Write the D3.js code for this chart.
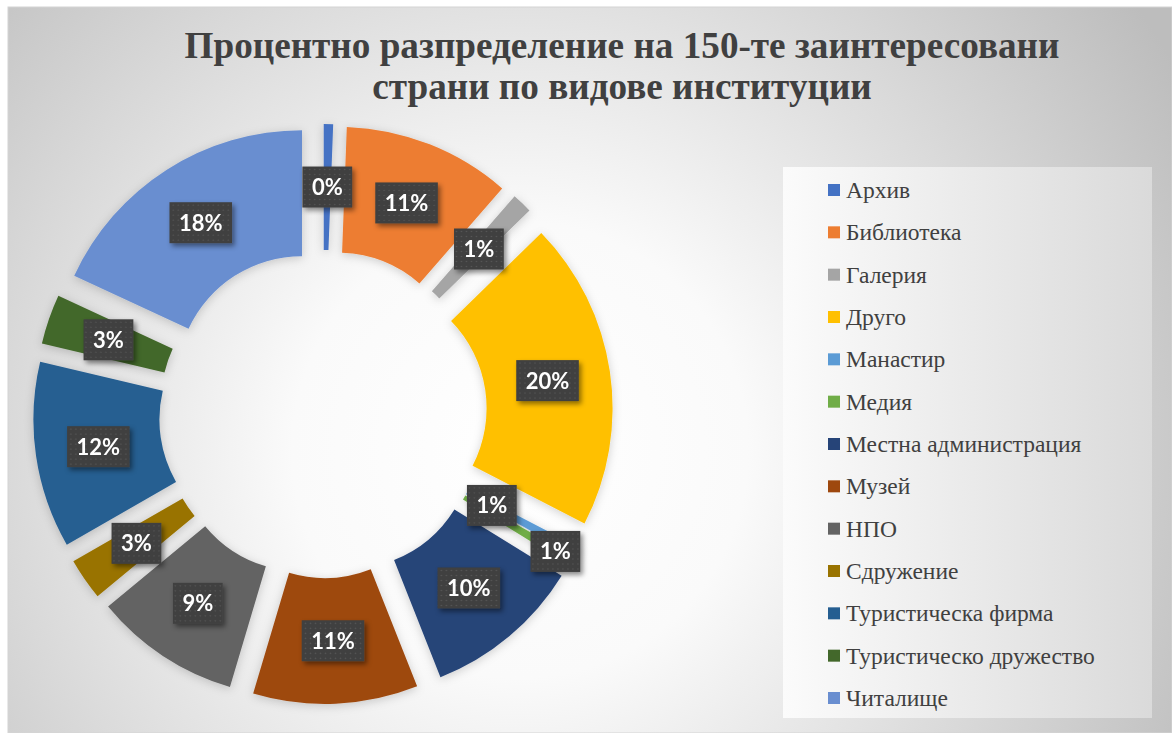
<!DOCTYPE html>
<html lang="bg">
<head>
<meta charset="UTF-8">
<title>Процентно разпределение</title>
<script src="https://d3js.org/d3.v7.min.js"></script>
<style>
  body { margin: 0; background: #fff; }
  svg { display: block; }
</style>
</head>
<body>
<div class="donutChart"></div>
<script>
  // данни (дялове в %, прочетени от ъглите на резените)
  const categories = ["Архив", "Библиотека", "Галерия", "Друго", "Манастир", "Медия",
    "Местна администрация", "Музей", "НПО", "Сдружение", "Туристическа фирма",
    "Туристическо дружество", "Читалище"]
  const shares = [0.6, 10.8, 1.3, 19.9, 0.6, 0.6, 10.2, 10.6, 9.4, 2.7, 12.0, 3.2, 18.1]
  const labels = ["0%", "11%", "1%", "20%", "1%", "1%", "10%", "11%", "9%", "3%", "12%", "3%", "18%"]
  const colors = ["#4472C4", "#ED7D31", "#A5A5A5", "#FFC000", "#5B9BD5", "#70AD47",
    "#264478", "#9E480E", "#636363", "#997300", "#255E91", "#43682B", "#698ED0"]
  const titleLines = ["Процентно разпределение на 150-те заинтересовани", "страни по видове институции"]

  // етикети, които Excel е изместил (разстояние от центъра)
  const labelDist = { "Манастир": 192, "Медия": 270 }

  const width = 1172, height = 733
  const cx = 323, cy = 414
  const outerR = 251, innerR = 125, explode = 39

  const data = categories.map((c, i) => ({ name: c, value: shares[i], label: labels[i], color: colors[i] }))

  const svg = d3.select(".donutChart")
    .append("svg")
    .attr("width", width)
    .attr("height", height)

  const defs = svg.append("defs")

  // фон
  const bg = defs.append("radialGradient")
    .attr("id", "bgGrad")
    .attr("gradientUnits", "userSpaceOnUse")
    .attr("cx", 520).attr("cy", 450).attr("r", 760)
  bg.append("stop").attr("offset", 0).attr("stop-color", "#ffffff")
  bg.append("stop").attr("offset", 0.3).attr("stop-color", "#fafafa")
  bg.append("stop").attr("offset", 1).attr("stop-color", "#bdbdbd")

  const lg = defs.append("linearGradient")
    .attr("id", "legendGrad")
    .attr("x1", 0).attr("y1", 0).attr("x2", 1).attr("y2", 0)
  lg.append("stop").attr("offset", 0).attr("stop-color", "#fbfbfb")
  lg.append("stop").attr("offset", 1).attr("stop-color", "#dadada")

  // точков шаблон за етикетите
  const pat = defs.append("pattern")
    .attr("id", "dots")
    .attr("patternUnits", "userSpaceOnUse")
    .attr("width", 5).attr("height", 5)
  pat.append("rect").attr("width", 5).attr("height", 5).attr("fill", "#3f3f3f")
  pat.append("circle").attr("cx", 2.5).attr("cy", 2.5).attr("r", 0.8).attr("fill", "#575757")

  const sh = defs.append("filter").attr("id", "labelShadow")
    .attr("x", "-30%").attr("y", "-30%").attr("width", "160%").attr("height", "170%")
  sh.append("feDropShadow").attr("dx", 2.5).attr("dy", 3).attr("stdDeviation", 2.5)
    .attr("flood-color", "#000").attr("flood-opacity", 0.45)

  const sliceSh = defs.append("filter").attr("id", "sliceShadow")
    .attr("x", "-20%").attr("y", "-20%").attr("width", "140%").attr("height", "140%")
  sliceSh.append("feDropShadow").attr("dx", 0).attr("dy", 2).attr("stdDeviation", 5)
    .attr("flood-color", "#000").attr("flood-opacity", 0.18)

  svg.append("rect")
    .attr("x", 8).attr("y", 7)
    .attr("width", width - 8).attr("height", height - 7)
    .attr("fill", "url(#bgGrad)")
    .attr("stroke", "#d4d4d4")

  // заглавие
  svg.append("g")
    .selectAll("text")
    .data(titleLines)
    .join("text")
      .attr("x", 622)
      .attr("y", (d, i) => 58 + i * 41)
      .attr("text-anchor", "middle")
      .style("font-family", "'Liberation Serif', 'Times New Roman', serif")
      .style("font-weight", "bold")
      .style("font-size", "37.2px")
      .style("fill", "#404040")
      .text(d => d)

  // пръстеновидна диаграма
  const pie = d3.pie()
    .sort(null)
    .value(d => d.value)
    .startAngle(0)
    .endAngle(2 * Math.PI)

  const arc = d3.arc()
    .innerRadius(innerR)
    .outerRadius(outerR)

  const arcs = pie(data)
  const mid = d => (d.startAngle + d.endAngle) / 2
  const offset = d => [explode * Math.sin(mid(d)), -explode * Math.cos(mid(d))]

  const chart = svg.append("g")
    .attr("transform", `translate(${cx},${cy})`)

  chart.append("g")
    .attr("filter", "url(#sliceShadow)")
    .selectAll("path")
    .data(arcs)
    .join("path")
      .attr("d", arc)
      .attr("transform", d => `translate(${offset(d)})`)
      .attr("fill", d => d.data.color)

  // етикети с данни
  const lab = chart.append("g")
    .selectAll("g")
    .data(arcs)
    .join("g")
      .attr("transform", d => {
        let p
        const dist = labelDist[d.data.name]
        if (dist) {
          p = [dist * Math.sin(mid(d)), -dist * Math.cos(mid(d))]
        } else {
          const c = arc.centroid(d), o = offset(d)
          p = [c[0] + o[0], c[1] + o[1]]
        }
        return `translate(${p})`
      })

  lab.append("rect")
    .attr("fill", "url(#dots)")
    .attr("filter", "url(#labelShadow)")

  lab.append("text")
    .attr("text-anchor", "middle")
    .attr("y", 8)
    .style("font-family", "Lato, 'Open Sans', sans-serif")
    .style("font-weight", "bold")
    .style("font-size", "22px")
    .style("fill", "#fff")
    .text(d => d.data.label)

  lab.each(function () {
    const g = d3.select(this)
    const w = g.select("text").node().getComputedTextLength() + 19
    g.select("rect")
      .attr("x", -w / 2).attr("y", -20.5)
      .attr("width", w).attr("height", 41)
  })

  // легенда
  svg.append("rect")
    .attr("x", 783).attr("y", 167)
    .attr("width", 369).attr("height", 551)
    .attr("fill", "url(#legendGrad)")

  const ly = d3.scalePoint()
    .domain(categories)
    .range([190, 698])

  const leg = svg.append("g")
    .selectAll("g")
    .data(data)
    .join("g")
      .attr("transform", d => `translate(828,${ly(d.name)})`)

  leg.append("rect")
    .attr("x", 0).attr("y", -6)
    .attr("width", 12).attr("height", 12)
    .attr("fill", d => d.color)

  leg.append("text")
    .attr("x", 18)
    .attr("y", 8)
    .style("font-family", "'Liberation Serif', 'Times New Roman', serif")
    .style("font-size", "23.5px")
    .style("fill", "#404040")
    .text(d => d.name)
</script>
</body>
</html>
